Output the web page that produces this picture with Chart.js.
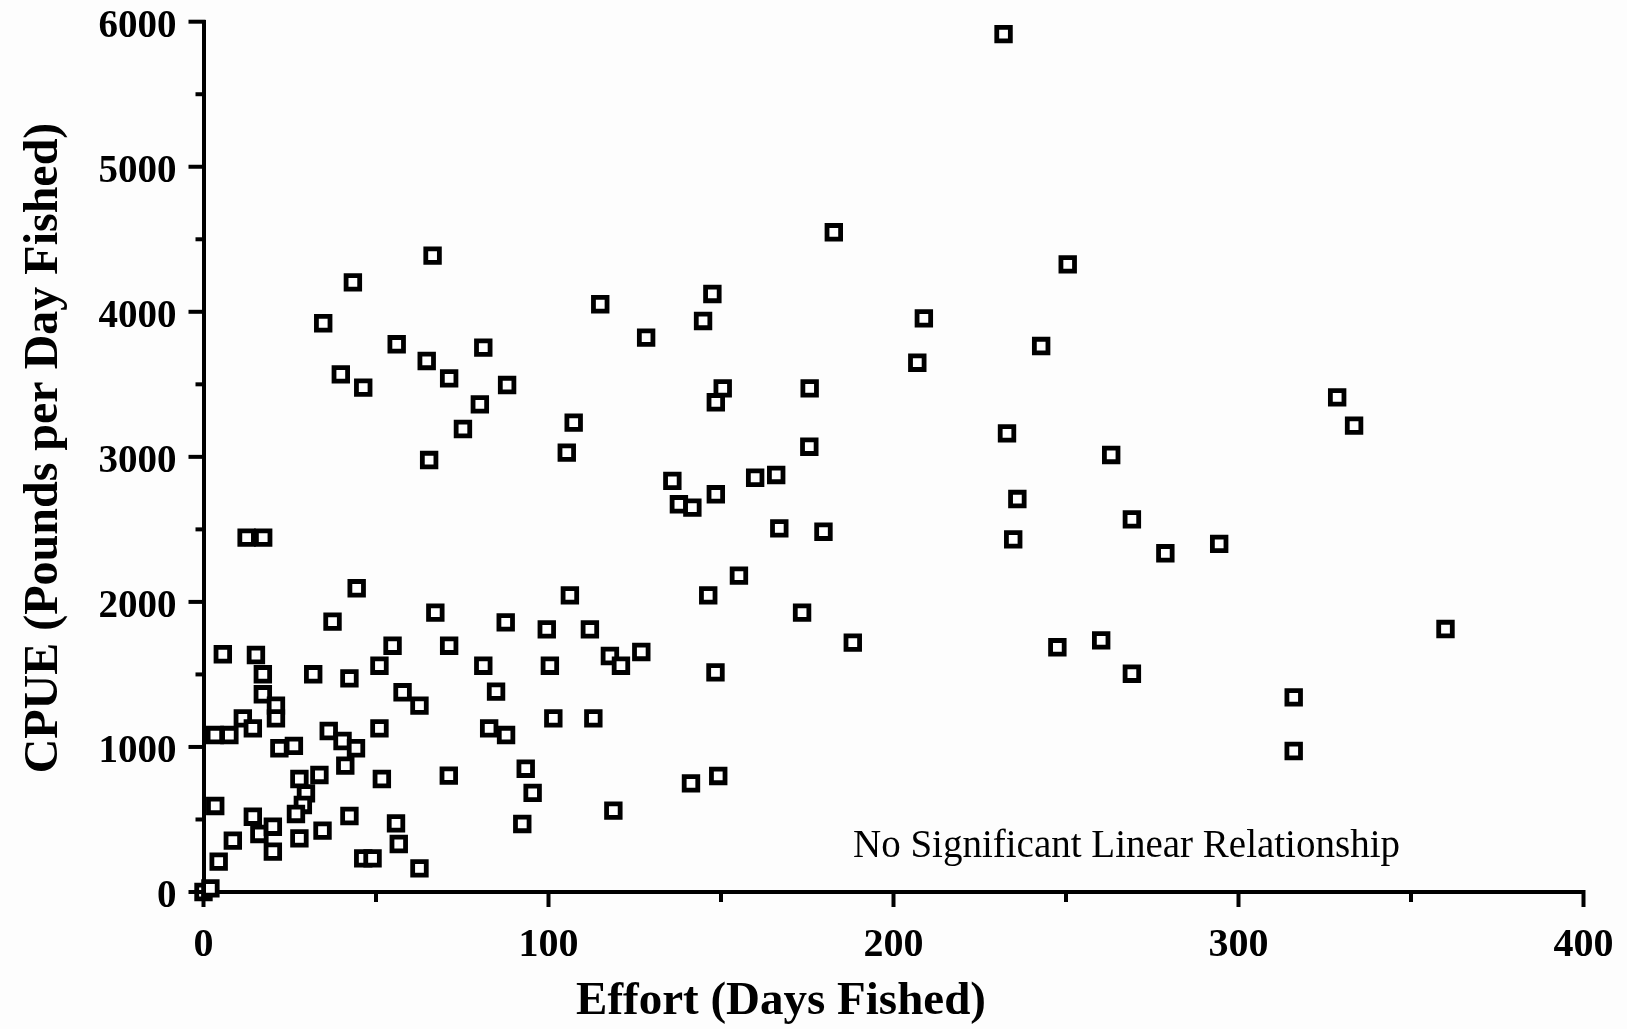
<!DOCTYPE html>
<html>
<head>
<meta charset="utf-8">
<title>CPUE vs Effort</title>
<script src="https://cdn.jsdelivr.net/npm/chart.js@4.4.1/dist/chart.umd.min.js"></script>
<style>
    html, body { margin:0; padding:0; background:#fdfdfd; }
    #wrap { width:1627px; height:1029px; }
</style>
</head>
<body>
<div id="wrap"><canvas id="cpueChart" width="1627" height="1029"></canvas></div>
<script>
// Effort (days fished) for each vessel/season
const effort = [
    0, 2, 3.4, 4.4, 8.5, 3.3, 7.5, 5.6, 11.4, 14.3,
    12.5, 17.3, 15.2, 17.2, 17.2, 21, 21, 22, 26.2, 14.3,
    16.2, 20.1, 20.1, 27.8, 29.7, 28.8, 26.8, 27.8, 33.6, 34.5,
    31.8, 36.3, 40.3, 41.1, 42.3, 44.2, 42.3, 51, 51, 51.7,
    54.8, 57.7, 62.6, 71.2, 37.4, 44.4, 67.2, 87.6, 81.1, 84.8,
    82.8, 87.7, 71.1, 55.8, 56.6, 92.4, 95.4, 93.4, 46.3, 49,
    62.6, 99.5, 112, 100.4, 101.4, 113, 117.8, 121, 126.9, 118.8,
    106.2, 146.3, 155.2, 173.5, 188.2, 148.4, 141.3, 149.2, 247.5, 260.2,
    269.1, 316, 316, 360, 294.4, 278.8, 234.7, 269.1, 235.9, 263.1,
    232.9, 206.9, 242.8, 208.8, 250.5, 231.9, 328.6, 333.5, 182.7, 147.5,
    115, 144.8, 128.3, 88, 150.5, 175.7, 148.5, 107.3, 105.3, 175.6,
    135.9, 159.9, 166, 148.5, 137.8, 141.7, 166.9, 179.7, 66.4, 43.3,
    34.7, 56, 81.1, 64.7, 39.8, 71.2, 46.3, 80.1, 75.2, 65.4
];

// CPUE (pounds per day fished), same order as effort
const cpue = [
    0, 25, 593, 209, 354, 1082, 1082, 1639, 1197, 1128,
    2443, 2443, 1634, 1501, 1363, 1285, 1197, 991, 1007, 519,
    400, 450, 278, 779, 680, 600, 538, 370, 807, 423,
    1501, 1110, 1041, 871, 524, 991, 1473, 1560, 1128, 779,
    1698, 1377, 1285, 1698, 1864, 2094, 1926, 1859, 1560, 1381,
    1128, 1082, 802, 473, 331, 469, 683, 850, 232, 232,
    163, 1811, 1811, 1560, 1197, 1197, 1627, 1560, 1655, 561,
    2045, 2045, 2181, 1926, 1719, 1514, 749, 800, 1687, 1735,
    1505, 1342, 972, 1813, 2400, 2335, 2431, 2569, 2709, 3013,
    3162, 3649, 3764, 3955, 4327, 5914, 3410, 3215, 4548, 4123,
    4052, 3937, 3822, 3495, 3472, 3472, 3376, 3236, 3029, 3070,
    2834, 2856, 2875, 2742, 2673, 2650, 2507, 2484, 4387, 4203,
    3921, 3776, 3753, 3661, 3569, 3541, 3477, 3362, 3192, 2978
];

// Axis ranges and tick steps
const xMin = 0, xMax = 400, xMajor = 100, xMinor = 50;
const yMin = 0, yMax = 6000, yMajor = 1000, yMinor = 500;

const xTitle = 'Effort (Days Fished)';
const yTitle = 'CPUE (Pounds per Day Fished)';
const noteText = 'No Significant Linear Relationship';

const serif = '"Liberation Serif", "Times New Roman", Times, serif';

// Build point list for the scatter
const points = effort.map((x, i) => ({ x, y: cpue[i] }));

// Draws major/minor tick marks, axis titles and the note
const axisDecor = {
    id: 'axisDecor',
    afterDraw(chart) {
        const { ctx, chartArea, scales } = chart;
        ctx.save();
        ctx.strokeStyle = '#000';
        ctx.lineWidth = 4;
        ctx.lineCap = 'butt';

        for (let v = xMin; v <= xMax; v += xMinor) {
            const px = scales.x.getPixelForValue(v);
            const len = v % xMajor === 0 ? 15 : 10;
            ctx.beginPath();
            ctx.moveTo(px, chartArea.bottom - 2);
            ctx.lineTo(px, chartArea.bottom + len);
            ctx.stroke();
        }
        for (let v = yMin; v <= yMax; v += yMinor) {
            const py = scales.y.getPixelForValue(v);
            const len = v % yMajor === 0 ? 15 : 8;
            ctx.beginPath();
            ctx.moveTo(chartArea.left - len, py);
            ctx.lineTo(chartArea.left + 2, py);
            ctx.stroke();
        }

        ctx.fillStyle = '#000';
        ctx.textBaseline = 'alphabetic';

        // x title
        ctx.font = 'bold 47px ' + serif;
        ctx.textAlign = 'center';
        ctx.fillText(xTitle, 781, 1014);

        // y title (rotated)
        ctx.save();
        ctx.translate(57, 448);
        ctx.rotate(-Math.PI / 2);
        ctx.font = 'bold 48px ' + serif;
        ctx.fillText(yTitle, 0, 0);
        ctx.restore();

        // note inside the plot
        ctx.font = '39px ' + serif;
        ctx.textAlign = 'left';
        ctx.fillText(noteText, 853, 857);

        ctx.restore();
    }
};

const ctx = document.getElementById('cpueChart').getContext('2d');

new Chart(ctx, {
    type: 'scatter',
    data: {
        datasets: [{
            data: points,
            pointStyle: 'rect',
            pointRadius: 9.6,
            pointHoverRadius: 9.6,
            borderWidth: 4.8,
            borderColor: '#000',
            backgroundColor: '#fff',
            clip: false
        }]
    },
    options: {
        responsive: false,
        animation: false,
        events: [],
        layout: { padding: { top: 21.7, right: 43.5, bottom: 0, left: 0 } },
        plugins: { legend: { display: false }, tooltip: { enabled: false } },
        scales: {
            x: {
                type: 'linear',
                min: xMin,
                max: xMax,
                grid: { display: false, drawTicks: false },
                border: { display: true, color: '#000', width: 4 },
                ticks: {
                    stepSize: xMajor,
                    color: '#000',
                    padding: 34,
                    callback: v => String(v),
                    font: { family: serif, size: 40, weight: 'bold', lineHeight: 1 }
                },
                afterFit(scale) {
                    scale.height = 137;
                    scale.paddingLeft = 0;
                    scale.paddingRight = 0;
                }
            },
            y: {
                type: 'linear',
                min: yMin,
                max: yMax,
                grid: { display: false, drawTicks: false },
                border: { display: true, color: '#000', width: 4 },
                ticks: {
                    stepSize: yMajor,
                    color: '#000',
                    padding: 27,
                    labelOffset: 5,
                    callback: v => String(v),
                    font: { family: serif, size: 39, weight: 'bold', lineHeight: 1 }
                },
                afterFit(scale) {
                    scale.width = 203.5;
                    scale.paddingTop = 0;
                    scale.paddingBottom = 0;
                }
            }
        }
    },
    plugins: [axisDecor]
});
</script>
</body>
</html>
